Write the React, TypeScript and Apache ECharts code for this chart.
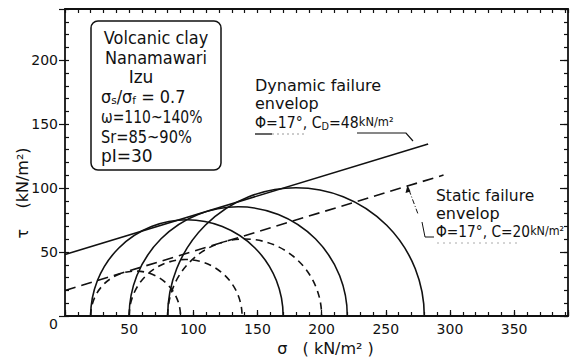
import React, { useEffect, useRef } from "react";
import * as echarts from "echarts";

// axis ranges (kN/m²)
const SIGMA_MAX = 392;
const TAU_MAX = 240;
const xTickStep = 50;
const yTickStep = 50;
const minorStep = 10;

// Mohr circles at failure: minor and major principal stresses (kN/m²)
const dynamicSigma3 = [20, 50, 80];
const dynamicSigma1 = [170, 220, 280];
const staticSigma3 = [20, 50, 80];
const staticSigma1 = [90, 138, 200];

// failure envelopes τ = c + σ·tanφ
const dynamicPhi = 17;
const dynamicC = 48;
const dynamicSigmaEnd = 283;
const staticPhi = 17;
const staticC = 20;
const staticSigmaEnd = 295;

// sample description
const boxTitle = ["Volcanic clay", "Nanamawari", "Izu"];
const boxProps = ["ω=110~140%", "Sr=85~90%", "pI=30"];

const FONT = "DejaVu Sans";
const INK = "#111";

const envelope = (c: number, phi: number, sEnd: number) => [
  [0, c],
  [sEnd, c + sEnd * Math.tan((phi * Math.PI) / 180)],
];

const circleSeries = (s3: number[], s1: number[], dashed: boolean) => ({
  type: "custom",
  xAxisIndex: 0,
  yAxisIndex: 0,
  silent: true,
  data: s3.map((v, i) => [v, s1[i]]),
  renderItem: (_p: any, api: any) => {
    const a = api.value(0);
    const b = api.value(1);
    const c = api.coord([(a + b) / 2, 0]);
    const r = api.size([(b - a) / 2, 0])[0];
    return {
      type: "arc",
      shape: { cx: c[0], cy: c[1], r, startAngle: Math.PI, endAngle: 2 * Math.PI, clockwise: true },
      style: { fill: "none", stroke: INK, lineWidth: 1.6, lineDash: dashed ? [7, 5] : null },
    };
  },
});

const baseX = {
  type: "value",
  min: 0,
  max: SIGMA_MAX,
  splitLine: { show: false },
};
const baseY = {
  type: "value",
  min: 0,
  max: TAU_MAX,
  splitLine: { show: false },
};
const line = { show: true, onZero: false, lineStyle: { color: INK, width: 1.8 } };
const noLine = { show: false, onZero: false };
const tickStyle = { color: INK, width: 1.2 };

export default function App() {
  const ref = useRef<HTMLDivElement>(null);

  useEffect(() => {
    document.body.style.margin = "0";
    if (!ref.current) return;
    const chart = echarts.init(ref.current, null, { renderer: "svg" });

    const txt = (x: number, y: number, text: string, size: number, extra: any = {}, sx = 1) => ({
      type: "text",
      x,
      y,
      scaleX: sx,
      style: {
        text,
        fontFamily: FONT,
        fontSize: size,
        fill: INK,
        verticalAlign: "middle",
        align: "left",
        ...extra,
      },
    });

    const rich = {
      sup: { fontFamily: FONT, fontSize: 13, fill: INK, verticalAlign: "top" },
      sub: { fontFamily: FONT, fontSize: 11, fill: INK, verticalAlign: "bottom" },
    };

    chart.setOption({
      animation: false,
      backgroundColor: "#fff",
      grid: { left: 65, right: 3, top: 9, bottom: 48, containLabel: false },
      xAxis: [
        {
          ...baseX,
          position: "bottom",
          interval: xTickStep,
          axisLine: line,
          axisTick: { show: true, inside: true, length: 6, lineStyle: tickStyle },
          axisLabel: {
            margin: 6,
            fontFamily: FONT,
            fontSize: 14,
            color: INK,
            formatter: (v: number) => (v > 0 && v % xTickStep === 0 ? String(v) : ""),
          },
          name: "σ   ( kN/m² )",
          nameLocation: "middle",
          nameGap: 24,
          nameTextStyle: { fontFamily: FONT, fontSize: 16, color: INK, padding: [0, 0, 0, 18] },
        },
        {
          ...baseX,
          position: "bottom",
          interval: minorStep,
          axisLine: noLine,
          axisTick: { show: true, inside: true, length: 4, lineStyle: tickStyle },
          axisLabel: { show: false },
        },
        {
          ...baseX,
          position: "top",
          interval: minorStep,
          axisLine: line,
          axisTick: { show: true, inside: true, length: 4, lineStyle: tickStyle },
          axisLabel: { show: false },
        },
      ],
      yAxis: [
        {
          ...baseY,
          position: "left",
          interval: yTickStep,
          axisLine: line,
          axisTick: { show: true, inside: false, length: 6, lineStyle: tickStyle },
          axisLabel: {
            margin: 7,
            fontFamily: FONT,
            fontSize: 14,
            color: INK,
            formatter: (v: number) => (v === 0 ? "{z|0}" : v % yTickStep === 0 ? String(v) : ""),
            rich: { z: { fontFamily: FONT, fontSize: 14, color: INK, padding: [16, 0, 0, 0] } },
          },
        },
        {
          ...baseY,
          position: "left",
          interval: minorStep,
          axisLine: noLine,
          axisTick: { show: true, inside: true, length: 4, lineStyle: tickStyle },
          axisLabel: { show: false },
        },
        {
          ...baseY,
          position: "right",
          interval: minorStep,
          axisLine: line,
          axisTick: { show: true, inside: true, length: 4, lineStyle: tickStyle },
          axisLabel: { show: false },
        },
        {
          ...baseY,
          position: "right",
          interval: yTickStep,
          axisLine: noLine,
          axisTick: { show: true, inside: true, length: 8, lineStyle: tickStyle },
          axisLabel: { show: false },
        },
      ],
      series: [
        circleSeries(dynamicSigma3, dynamicSigma1, false),
        circleSeries(staticSigma3, staticSigma1, true),
        {
          type: "line",
          xAxisIndex: 0,
          yAxisIndex: 0,
          symbol: "none",
          silent: true,
          data: envelope(dynamicC, dynamicPhi, dynamicSigmaEnd),
          lineStyle: { color: INK, width: 1.6 },
        },
        {
          type: "line",
          xAxisIndex: 0,
          yAxisIndex: 0,
          symbol: "none",
          silent: true,
          data: envelope(staticC, staticPhi, staticSigmaEnd),
          lineStyle: { color: INK, width: 1.6, type: [11, 6] },
        },
      ],
      graphic: [
        // y-axis title, reading upwards
        {
          type: "text",
          x: 22,
          y: 193,
          rotation: Math.PI / 2,
          style: {
            text: "τ    (kN/m²)",
            fontFamily: FONT,
            fontSize: 16,
            fill: INK,
            align: "center",
            verticalAlign: "middle",
          },
        },

        // sample description box
        {
          type: "rect",
          shape: { x: 91, y: 21, width: 130, height: 149, r: 7 },
          style: { fill: "#fff", stroke: INK, lineWidth: 1.5 },
        },
        txt(156, 38, boxTitle[0], 17, { align: "center" }, 0.95),
        txt(156, 58, boxTitle[1], 17, { align: "center" }, 0.95),
        txt(141, 77, boxTitle[2], 17, { align: "center" }),
        txt(101, 97, "σ{sub|s}/σ{sub|f} = 0.7", 17, {
          rich: { sub: { fontFamily: FONT, fontSize: 11, fill: INK, verticalAlign: "bottom" } },
        }, 0.95),
        txt(101, 118, boxProps[0], 17, {}, 0.82),
        txt(101, 137, boxProps[1], 17, {}, 0.86),
        txt(101, 156, boxProps[2], 17, {}, 1),

        // dynamic envelope label
        txt(255, 85, "Dynamic failure", 16),
        txt(255, 103, "envelop", 16),
        txt(255, 123, "Φ=17°, C{sub|D}=48{sup|kN/m²}", 16, { rich }, 0.88),
        {
          type: "polyline",
          shape: { points: [[255, 134], [272, 134]] },
          style: { stroke: INK, lineWidth: 1.3, fill: "none" },
        },
        {
          type: "polyline",
          shape: { points: [[272, 134], [305, 134]] },
          style: { stroke: "#999", lineWidth: 1, lineDash: [2, 3], fill: "none" },
        },
        {
          type: "polyline",
          shape: { points: [[357, 133], [406, 133], [413, 141]] },
          style: { stroke: INK, lineWidth: 1.2, fill: "none" },
        },

        // static envelope label
        txt(436, 195, "Static failure", 16, {}, 0.97),
        txt(436, 213, "envelop", 16),
        txt(436, 232, "Φ=17°, C=20{sup|kN/m²}", 16, { rich }, 0.86),
        {
          type: "polyline",
          shape: { points: [[409, 190], [418, 214]] },
          style: { stroke: INK, lineWidth: 1, fill: "none", lineDash: [5, 2, 1, 2] },
        },
        {
          type: "polygon",
          shape: { points: [[407.5, 185], [405.5, 193], [410.5, 191.5]] },
          style: { fill: INK },
        },
        {
          type: "polyline",
          shape: { points: [[422, 222], [425, 237], [434, 237]] },
          style: { stroke: INK, lineWidth: 1, fill: "none" },
        },
        {
          type: "polyline",
          shape: { points: [[437, 243], [520, 243]] },
          style: { stroke: "#aaa", lineWidth: 1, lineDash: [2, 4], fill: "none" },
        },
      ],
    });

    return () => chart.dispose();
  }, []);

  return <div ref={ref} style={{ width: 571, height: 364 }} />;
}
